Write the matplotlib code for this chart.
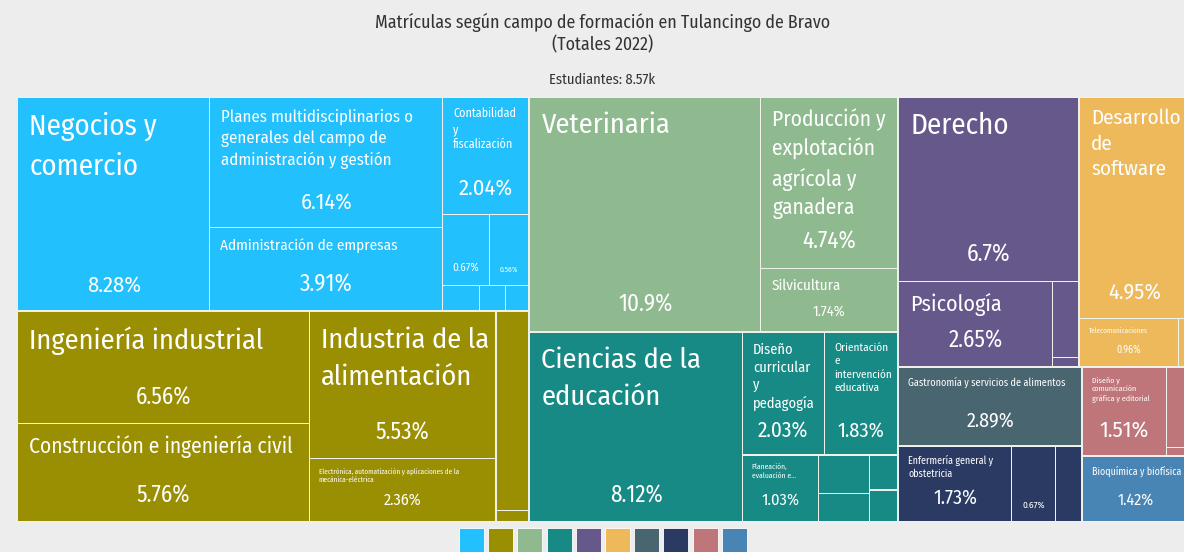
import matplotlib
matplotlib.use("Agg")
import matplotlib.pyplot as plt
from matplotlib.patches import Rectangle
from matplotlib import font_manager

# ---------------- data ----------------
title_lines = ["Matrículas según campo de formación en Tulancingo de Bravo", "(Totales 2022)"]
subtitle = "Estudiantes: 8.57k"

group_names = [
    "Administración y negocios",
    "Ingeniería, manufactura y construcción",
    "Agronomía y veterinaria",
    "Educación",
    "Ciencias sociales y derecho",
    "Tecnologías de la información y la comunicación",
    "Servicios",
    "Ciencias de la salud",
    "Artes y humanidades",
    "Ciencias naturales, matemáticas y estadística",
]
group_colors = ["#22C0FC", "#9A8F02", "#8FBA8F", "#178A85", "#67588C",
                "#EDB95A", "#486570", "#2A3A63", "#BE767A", "#4884B4"]

admin_names = ["Negocios y comercio",
               "Planes multidisciplinarios o generales del campo de administración y gestión",
               "Administración de empresas", "Contabilidad y fiscalización",
               "Otros programas (adm.) 1", "Otros programas (adm.) 2",
               "Otros programas (adm.) 3", "Otros programas (adm.) 4", "Otros programas (adm.) 5"]
admin_pct = [8.28, 6.14, 3.91, 2.04, 0.67, 0.56, 0.19, 0.14, 0.12]

ing_names = ["Ingeniería industrial", "Construcción e ingeniería civil",
             "Industria de la alimentación",
             "Electrónica, automatización y aplicaciones de la mecánica-eléctrica",
             "Otros programas (ing.) 1", "Otros programas (ing.) 2"]
ing_pct = [6.56, 5.76, 5.53, 2.36, 1.32, 0.07]

agro_names = ["Veterinaria", "Producción y explotación agrícola y ganadera", "Silvicultura"]
agro_pct = [10.9, 4.74, 1.74]

edu_names = ["Ciencias de la educación", "Diseño curricular y pedagogía",
             "Orientación e intervención educativa",
             "Planeación, evaluación e investigación educativa",
             "Otros programas (edu.) 1", "Otros programas (edu.) 2",
             "Otros programas (edu.) 3", "Otros programas (edu.) 4"]
edu_pct = [8.12, 2.03, 1.83, 1.03, 0.39, 0.29, 0.20, 0.18]

soc_names = ["Derecho", "Psicología", "Otros programas (soc.) 1", "Otros programas (soc.) 2"]
soc_pct = [6.7, 2.65, 0.40, 0.05]

tic_names = ["Desarrollo de software", "Telecomunicaciones", "Otros programas (tic) 1"]
tic_pct = [4.95, 0.96, 0.11]

serv_names = ["Gastronomía y servicios de alimentos"]
serv_pct = [2.89]

salud_names = ["Enfermería general y obstetricia", "Otros programas (salud) 1", "Otros programas (salud) 2"]
salud_pct = [1.73, 0.67, 0.40]

artes_names = ["Diseño y comunicación gráfica y editorial", "Otros programas (artes) 1", "Otros programas (artes) 2"]
artes_pct = [1.51, 0.38, 0.04]

nat_names = ["Bioquímica y biofísica"]
nat_pct = [1.42]

group_leaves = [
    (admin_names, admin_pct), (ing_names, ing_pct), (agro_names, agro_pct),
    (edu_names, edu_pct), (soc_names, soc_pct), (tic_names, tic_pct),
    (serv_names, serv_pct), (salud_names, salud_pct), (artes_names, artes_pct),
    (nat_names, nat_pct),
]

# ---------------- label styling (wrapped text, name size px, pct size px) ----------------
label_style = {
    "Negocios y comercio": ("Negocios y\ncomercio", 29, 22.5),
    "Planes multidisciplinarios o generales del campo de administración y gestión":
        ("Planes multidisciplinarios o\ngenerales del campo de\nadministración y gestión", 16.8, 22),
    "Administración de empresas": ("Administración de empresas", 15.2, 23),
    "Contabilidad y fiscalización": ("Contabilidad\ny\nfiscalización", 12, 22.5),
    "Otros programas (adm.) 1": (None, 0, 11.2),
    "Otros programas (adm.) 2": (None, 0, 7.6),
    "Ingeniería industrial": ("Ingeniería industrial", 28.4, 23),
    "Construcción e ingeniería civil": ("Construcción e ingeniería civil", 21.5, 23),
    "Industria de la alimentación": ("Industria de la\nalimentación", 29, 23),
    "Electrónica, automatización y aplicaciones de la mecánica-eléctrica":
        ("Electrónica, automatización y aplicaciones de la\nmecánica-eléctrica", 7.1, 16),
    "Veterinaria": ("Veterinaria", 28.5, 23),
    "Producción y explotación agrícola y ganadera":
        ("Producción y\nexplotación\nagrícola y\nganadera", 21.5, 23),
    "Silvicultura": ("Silvicultura", 15, 14.5),
    "Ciencias de la educación": ("Ciencias de la\neducación", 28.5, 23),
    "Diseño curricular y pedagogía": ("Diseño\ncurricular\ny\npedagogía", 14.4, 21.3),
    "Orientación e intervención educativa": ("Orientación\ne\nintervención\neducativa", 12.5, 20.4),
    "Planeación, evaluación e investigación educativa": ("Planeación,\nevaluación e...", 7.5, 16.3),
    "Derecho": ("Derecho", 29, 23.5),
    "Psicología": ("Psicología", 22, 23),
    "Desarrollo de software": ("Desarrollo\nde\nsoftware", 21, 22),
    "Telecomunicaciones": ("Telecomunicaciones", 7, 10),
    "Gastronomía y servicios de alimentos": ("Gastronomía y servicios de alimentos", 10.2, 20),
    "Enfermería general y obstetricia": ("Enfermería general y\nobstetricia", 10, 20),
    "Otros programas (salud) 1": (None, 0, 9.5),
    "Diseño y comunicación gráfica y editorial": ("Diseño y\ncomunicación\ngráfica y editorial", 8, 22.4),
    "Bioquímica y biofísica": ("Bioquímica y biofísica", 10, 16),
}

# ---------------- fonts ----------------
available = {f.name for f in font_manager.fontManager.ttflist}
font = "DejaVu Sans"
for cand in ["Fira Sans Condensed", "Roboto Condensed", "Liberation Sans Narrow",
             "Open Sans Condensed", "Roboto", "Noto Sans"]:
    if cand in available:
        font = cand
        break
plt.rcParams["font.family"] = [font, "DejaVu Sans"]

# ---------------- squarified treemap (d3 algorithm) ----------------
PHI = (1 + 5 ** 0.5) / 2


def _dice(vals, total, x0, y0, x1, y1):
    k = (x1 - x0) / total if total else 0
    out, x = [], x0
    for v in vals:
        out.append((x, y0, x + v * k, y1))
        x += v * k
    return out


def _slice(vals, total, x0, y0, x1, y1):
    k = (y1 - y0) / total if total else 0
    out, y = [], y0
    for v in vals:
        out.append((x0, y, x1, y + v * k))
        y += v * k
    return out


def squarify(values, x0, y0, x1, y1, ratio=PHI):
    rects = []
    value = float(sum(values))
    n = len(values)
    i0 = i1 = 0
    while i0 < n:
        dx, dy = x1 - x0, y1 - y0
        sum_v = values[i1]
        i1 += 1
        min_v = max_v = sum_v
        alpha = max(dy / dx, dx / dy) / (value * ratio)
        beta = sum_v * sum_v * alpha
        min_ratio = max(max_v / beta, beta / min_v)
        while i1 < n:
            nv = values[i1]
            s = sum_v + nv
            mn, mx = min(min_v, nv), max(max_v, nv)
            beta = s * s * alpha
            new_ratio = max(mx / beta, beta / mn)
            if new_ratio > min_ratio:
                break
            min_ratio, sum_v, min_v, max_v = new_ratio, s, mn, mx
            i1 += 1
        row = values[i0:i1]
        if dx < dy:
            ny = y0 + dy * sum_v / value
            rects += _dice(row, sum_v, x0, y0, x1, ny)
            y0 = ny
        else:
            nx = x0 + dx * sum_v / value
            rects += _slice(row, sum_v, x0, y0, nx, y1)
            x0 = nx
        value -= sum_v
        i0 = i1
    return rects


# ---------------- figure ----------------
W, H, DPI = 1184, 552, 100
BG = "#EDEDED"
fig = plt.figure(figsize=(W / DPI, H / DPI), dpi=DPI, facecolor=BG)
ax = fig.add_axes([0, 0, 1, 1])
ax.set_xlim(0, W)
ax.set_ylim(H, 0)
ax.axis("off")
ax.set_facecolor(BG)

PX = 72.0 / DPI  # points per pixel

ax.text(W / 2 + 11, 12.5, title_lines[0] + "\n" + title_lines[1], ha="center", va="top",
        fontsize=17.8 * PX, color="#333333", linespacing=1.3)
ax.text(W / 2 + 10, 80, subtitle, ha="center", va="center", fontsize=14.5 * PX, color="#333333")

# treemap area (extends slightly beyond right edge of the image)
AX0, AY0, AX1, AY1 = 17.3, 96.5, 1190, 522
group_sums = [sum(v) for _, v in group_leaves]
order = sorted(range(len(group_sums)), key=lambda i: -group_sums[i])
g_rects = squarify([group_sums[i] for i in order], AX0, AY0, AX1, AY1)

renderer = fig.canvas.get_renderer()
GPAD = 0.5
LPAD = 0.55
for gi, (gx0, gy0, gx1, gy1) in zip(order, g_rects):
    gx0, gy0, gx1, gy1 = gx0 + GPAD, gy0 + GPAD, gx1 - GPAD, gy1 - GPAD
    names, vals = group_leaves[gi]
    lorder = sorted(range(len(vals)), key=lambda i: -vals[i])
    l_rects = squarify([vals[i] for i in lorder], gx0, gy0, gx1, gy1)
    color = group_colors[gi]
    ax.add_patch(Rectangle((gx0, gy0), gx1 - gx0, gy1 - gy0, facecolor="#F3F3EC",
                           edgecolor="none", alpha=0.75))
    for li, (x0, y0, x1, y1) in zip(lorder, l_rects):
        x0, y0, x1, y1 = x0 + LPAD, y0 + LPAD, x1 - LPAD, y1 - LPAD
        ax.add_patch(Rectangle((x0, y0), x1 - x0, y1 - y0, facecolor=color,
                               edgecolor="none", antialiased=True))
        name = names[li]
        if name not in label_style:
            continue
        txt, nfs, pfs = label_style[name]
        w = x1 - x0
        if txt:
            if nfs >= 25:
                padx, pady, ls = 11, 14, 1.5
            elif nfs >= 16:
                padx, pady, ls = 11, 11, 1.4
            elif nfs >= 12:
                padx, pady, ls = 10, 10, 1.3
            else:
                padx, pady, ls = 9, 8, 1.3
            t = ax.text(x0 + padx, y0 + pady, txt, ha="left", va="top",
                        fontsize=nfs * PX, color="white", linespacing=ls)
            bb = t.get_window_extent(renderer)
            avail = w - 2 * padx + 6
            if bb.width > avail:
                t.set_fontsize(nfs * PX * avail / bb.width)
        pct = f"{vals[li]:g}%"
        ax.text((x0 + x1) / 2, y1 - (9 + 0.72 * pfs), pct, ha="center", va="center",
                fontsize=pfs * PX, color="white")

# legend squares
n = len(group_colors)
pitch, size = 29.2, 25
lx0 = 605 - n * pitch / 2
for i, c in enumerate(group_colors):
    ax.add_patch(Rectangle((lx0 + i * pitch, 527.5), size, size, facecolor=c,
                           edgecolor="#FFFFFF", linewidth=0.6, alpha=1))

fig.savefig("out.png", dpi=DPI, facecolor=BG)
